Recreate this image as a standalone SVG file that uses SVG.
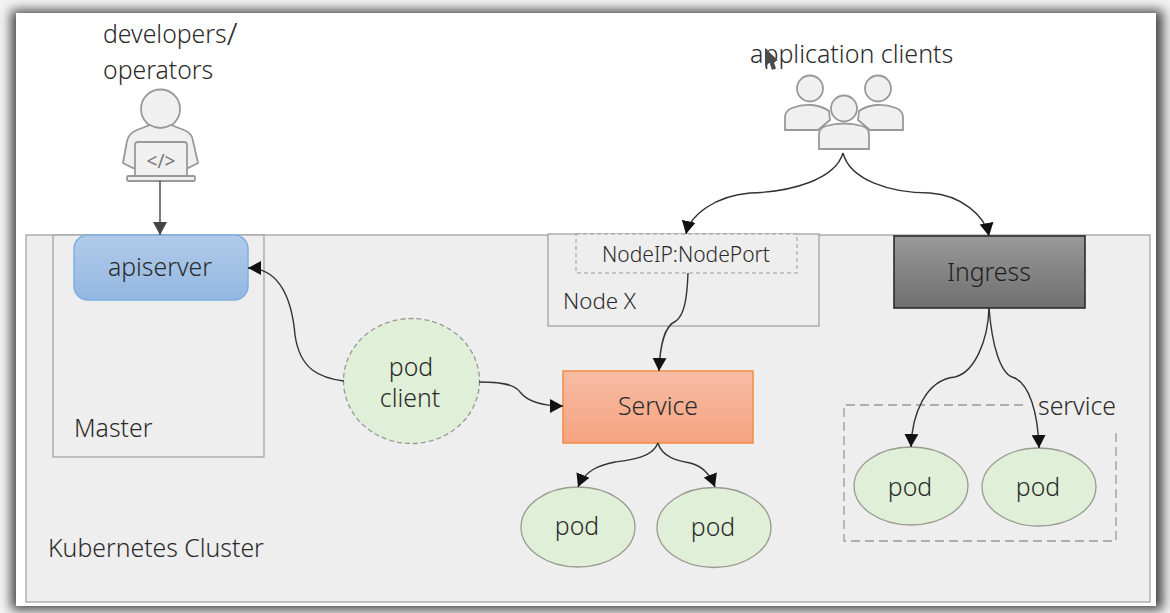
<svg xmlns="http://www.w3.org/2000/svg" width="1170" height="613" viewBox="0 0 1170 613">
<style>
text{font-family:"Noto Sans","Open Sans","Liberation Sans",sans-serif;fill:#2a2a2a;font-size:24.800px;font-weight:300}
.m{text-anchor:middle}
.s{font-size:22.300px}
.n{font-size:21px}
.c{fill:none;stroke:#333;stroke-width:1.4}
.pod{fill:#e0efd8;stroke:#9a9a90;stroke-width:1.3}
.icon{fill:#f0f0f0;stroke:#999;stroke-width:1.8}
.box{fill:#eee;stroke:#a4a4a4;stroke-width:1.3}
</style>
<defs>
<filter id="sh" x="-5%" y="-5%" width="110%" height="110%"><feGaussianBlur stdDeviation="6"/></filter>
<linearGradient id="gb" x1="0" y1="0" x2="0" y2="1"><stop offset="0" stop-color="#b2cbe9"/><stop offset="1" stop-color="#93b7e1"/></linearGradient>
<linearGradient id="go" x1="0" y1="0" x2="0" y2="1"><stop offset="0" stop-color="#f7bca4"/><stop offset="1" stop-color="#f6a380"/></linearGradient>
<linearGradient id="gg" x1="0" y1="0" x2="0" y2="1"><stop offset="0" stop-color="#999"/><stop offset="1" stop-color="#6f6f6f"/></linearGradient>
<marker id="a" markerUnits="userSpaceOnUse" markerWidth="14" markerHeight="16" refX="13" refY="8" orient="auto"><path d="M0 1L13 8L0 15Z" fill="#111"/></marker>
<marker id="a2" markerUnits="userSpaceOnUse" markerWidth="14" markerHeight="16" refX="13" refY="8" orient="auto"><path d="M0 1L13 8L0 15Z" fill="#444"/></marker>
</defs>
<rect width="1170" height="613" fill="#f4f4f4"/>
<rect x="11" y="10" width="1152" height="600" fill="#444" filter="url(#sh)"/>
<rect x="16" y="13" width="1140" height="593" fill="#fff"/>

<g id="cluster"><rect x="26" y="235" width="1124" height="367" class="box"/><text x="48" y="557">Kubernetes Cluster</text></g>
<g id="master"><rect x="53" y="235" width="211" height="222" class="box"/><text x="74" y="437">Master</text></g>
<g id="node-x"><rect x="548" y="234" width="271" height="92" class="box"/><text x="563" y="309" class="s">Node X</text></g>
<g id="nodeport"><rect x="576" y="234" width="221" height="39" fill="#eee" stroke="#999" stroke-width="1" stroke-dasharray="4 3"/><text x="686" y="262" class="m n">NodeIP:NodePort</text></g>
<g id="apiserver"><rect x="74" y="235" width="174" height="65" rx="14" fill="url(#gb)" stroke="#7fb0e0" stroke-width="1.5"/><text x="160" y="276" class="m">apiserver</text></g>
<g id="ingress"><rect x="894" y="236" width="191" height="72" fill="url(#gg)" stroke="#2c2c2c" stroke-width="1.6"/><text x="989" y="281" class="m" style="fill:#1f1f1f">Ingress</text></g>
<g id="service"><rect x="563" y="371" width="190" height="72" fill="url(#go)" stroke="#f58a45" stroke-width="1.5"/><text x="658" y="415" class="m">Service</text></g>
<g id="pod-client"><ellipse cx="411.500" cy="381" rx="68" ry="62.500" fill="#e0efd8" stroke="#999" stroke-width="1.300" stroke-dasharray="5 3"/><text x="411" y="376" class="m">pod</text><text x="410" y="407" class="m">client</text></g>
<g id="service-group"><path d="M1023 405H844V541H1116V433" fill="none" stroke="#999" stroke-width="1.300" stroke-dasharray="9 5"/><text x="1038" y="415">service</text></g>
<g id="pod-1"><ellipse cx="578" cy="527" rx="57" ry="40" class="pod"/><text x="577" y="535" class="m">pod</text></g>
<g id="pod-2"><ellipse cx="714" cy="527.500" rx="57" ry="40" class="pod"/><text x="713" y="536" class="m">pod</text></g>
<g id="pod-3"><ellipse cx="911" cy="486" rx="57" ry="39" class="pod"/><text x="910" y="496" class="m">pod</text></g>
<g id="pod-4"><ellipse cx="1039" cy="487" rx="57" ry="39" class="pod"/><text x="1038" y="496" class="m">pod</text></g>

<g id="developers"><text x="103" y="43">developers<tspan style="font-size:31px" dy="2">/</tspan></text><text x="103" y="79">operators</text>
<circle cx="160.500" cy="109" r="19.500" class="icon"/>
<path d="M123 163L127 141Q129 133 137 130L150 125Q160 131 171 125L184 130Q192 133 193 141L198 163L188 168H133Z" class="icon"/>
<rect x="135" y="142" width="52" height="36" rx="3" class="icon"/>
<rect x="127" y="176" width="68" height="5" rx="1.500" class="icon"/>
<text x="161" y="168" class="m" style="font-size:19px;font-weight:400;fill:#777">&lt;/&gt;</text></g>

<g id="clients"><text x="750" y="63" style="font-size:25px">application clients</text>
<circle cx="810" cy="88.500" r="13" class="icon"/><circle cx="878" cy="88.500" r="13" class="icon"/>
<path d="M785 130V117Q785 111 792 108Q802 104 812 105Q822 106 829 111L830 120L818 130Z" class="icon"/>
<path d="M903 130V117Q903 111 896 108Q886 104 876 105Q866 106 859 111L858 120L870 130Z" class="icon"/>
<circle cx="844" cy="108.500" r="13" class="icon"/>
<path d="M819 149V134Q819 128 826 126Q844 121 862 126Q869 128 869 134V149Z" class="icon"/>
<path d="M765 48V67L769.500 62.500L772 70L776 68.500L773.500 61L778 60.500Z" fill="#4a4a4a"/></g>

<g id="connectors">
<path class="c" d="M160 181V235" marker-end="url(#a2)" style="stroke:#444"/>
<path class="c" d="M344 381C320 378 300 370 295 335C292 300 280 268 248 268" marker-end="url(#a)"/>
<path class="c" d="M479 382C500 382 515 384 520 392C528 402 545 406 563 406" marker-end="url(#a)"/>
<path class="c" d="M843 153C835 180 790 192 750 193C715 196 690 215 686 234" marker-end="url(#a)"/>
<path class="c" d="M843 153C850 180 890 193 930 193C960 195 985 215 989 236" marker-end="url(#a)"/>
<path class="c" d="M688 273C687 300 684 315 676 321C664 326 660 345 659 371" marker-end="url(#a)"/>
<path class="c" d="M658 443C652 458 630 460 615 462C600 465 585 470 578 487" marker-end="url(#a)"/>
<path class="c" d="M658 443C662 458 680 461 690 463C703 466 710 474 715 487" marker-end="url(#a)"/>
<path class="c" d="M989 308C988 340 975 372 955 377C925 380 912 415 911 447" marker-end="url(#a)"/>
<path class="c" d="M989 308C992 345 1000 372 1012 377C1030 382 1038 415 1039 448" marker-end="url(#a)"/>
</g>
</svg>
